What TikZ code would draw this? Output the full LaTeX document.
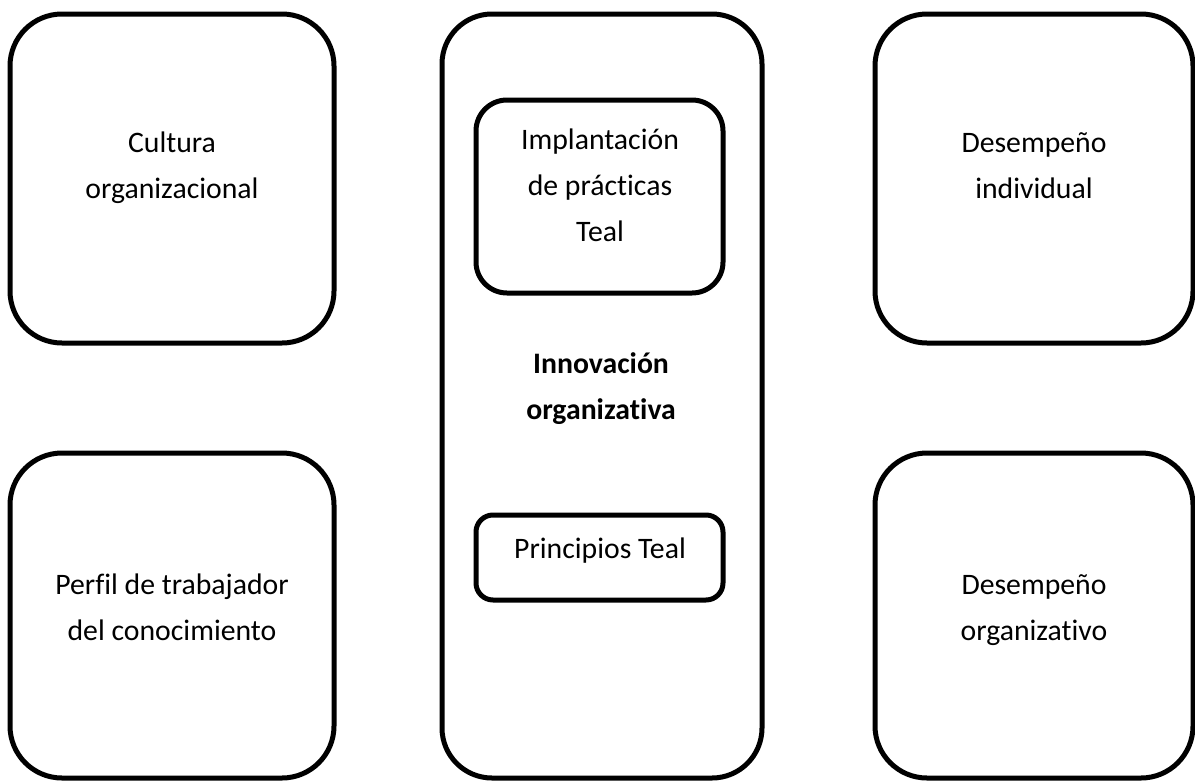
\documentclass[tikz,border=0pt]{standalone}
\usepackage{fontspec}
\setmainfont[Ligatures={NoCommon}]{Carlito}
\begin{document}
\begin{tikzpicture}[x=0.75pt,y=-0.75pt,
  sbox/.style={draw=black, line width=3.75pt, fill=none, inner sep=0pt, outer sep=0pt, rectangle},
  lbl/.style={align=center, anchor=base, inner sep=0pt, font=\fontsize{22.3pt}{34.5pt}\selectfont}]
\useasboundingbox (0,0) rectangle (1195,782);
\fill[white] (0,0) rectangle (1195,782);
% outer boxes
\node[sbox, rounded corners=39pt, minimum width=243pt, minimum height=246.75pt] (cultbox) at (172,178.5) {};
\node[sbox, rounded corners=39pt, minimum width=243pt, minimum height=243.75pt] (perfbox) at (172,615.5) {};
\node[sbox, rounded corners=39pt, minimum width=238.5pt, minimum height=246.75pt] (indbox) at (1034,178.5) {};
\node[sbox, rounded corners=39pt, minimum width=238.5pt, minimum height=243.75pt] (orgbox) at (1034,615.5) {};
\node[sbox, rounded corners=37.5pt, minimum width=240pt, minimum height=573pt] (innbox) at (602,396) {};
\node[sbox, rounded corners=23.25pt, minimum width=185.25pt, minimum height=144.75pt] (implbox) at (599.5,196.5) {};
\node[sbox, rounded corners=12.75pt, minimum width=185.25pt, minimum height=63.75pt] (princbox) at (599.5,557.5) {};
% texts (anchor=base is the baseline of the last line)
\node[lbl] (cult) at (172,198) {Cultura\\organizacional};
\node[lbl] (ind) at (1034,198) {Desempeño\\individual};
\node[lbl] (perf) at (172,640) {Perfil de trabajador\\del conocimiento};
\node[lbl] (org) at (1034,640) {Desempeño\\organizativo};
\node[lbl] (impl) at (600,241) {Implantación\\de prácticas\\Teal};
\node[lbl, font=\fontsize{22.3pt}{34.5pt}\selectfont\bfseries] (inn) at (601,419) {Innovación\\organizativa};
\node[lbl] (princ) at (600,558) {Principios Teal};
\end{tikzpicture}
\end{document}
